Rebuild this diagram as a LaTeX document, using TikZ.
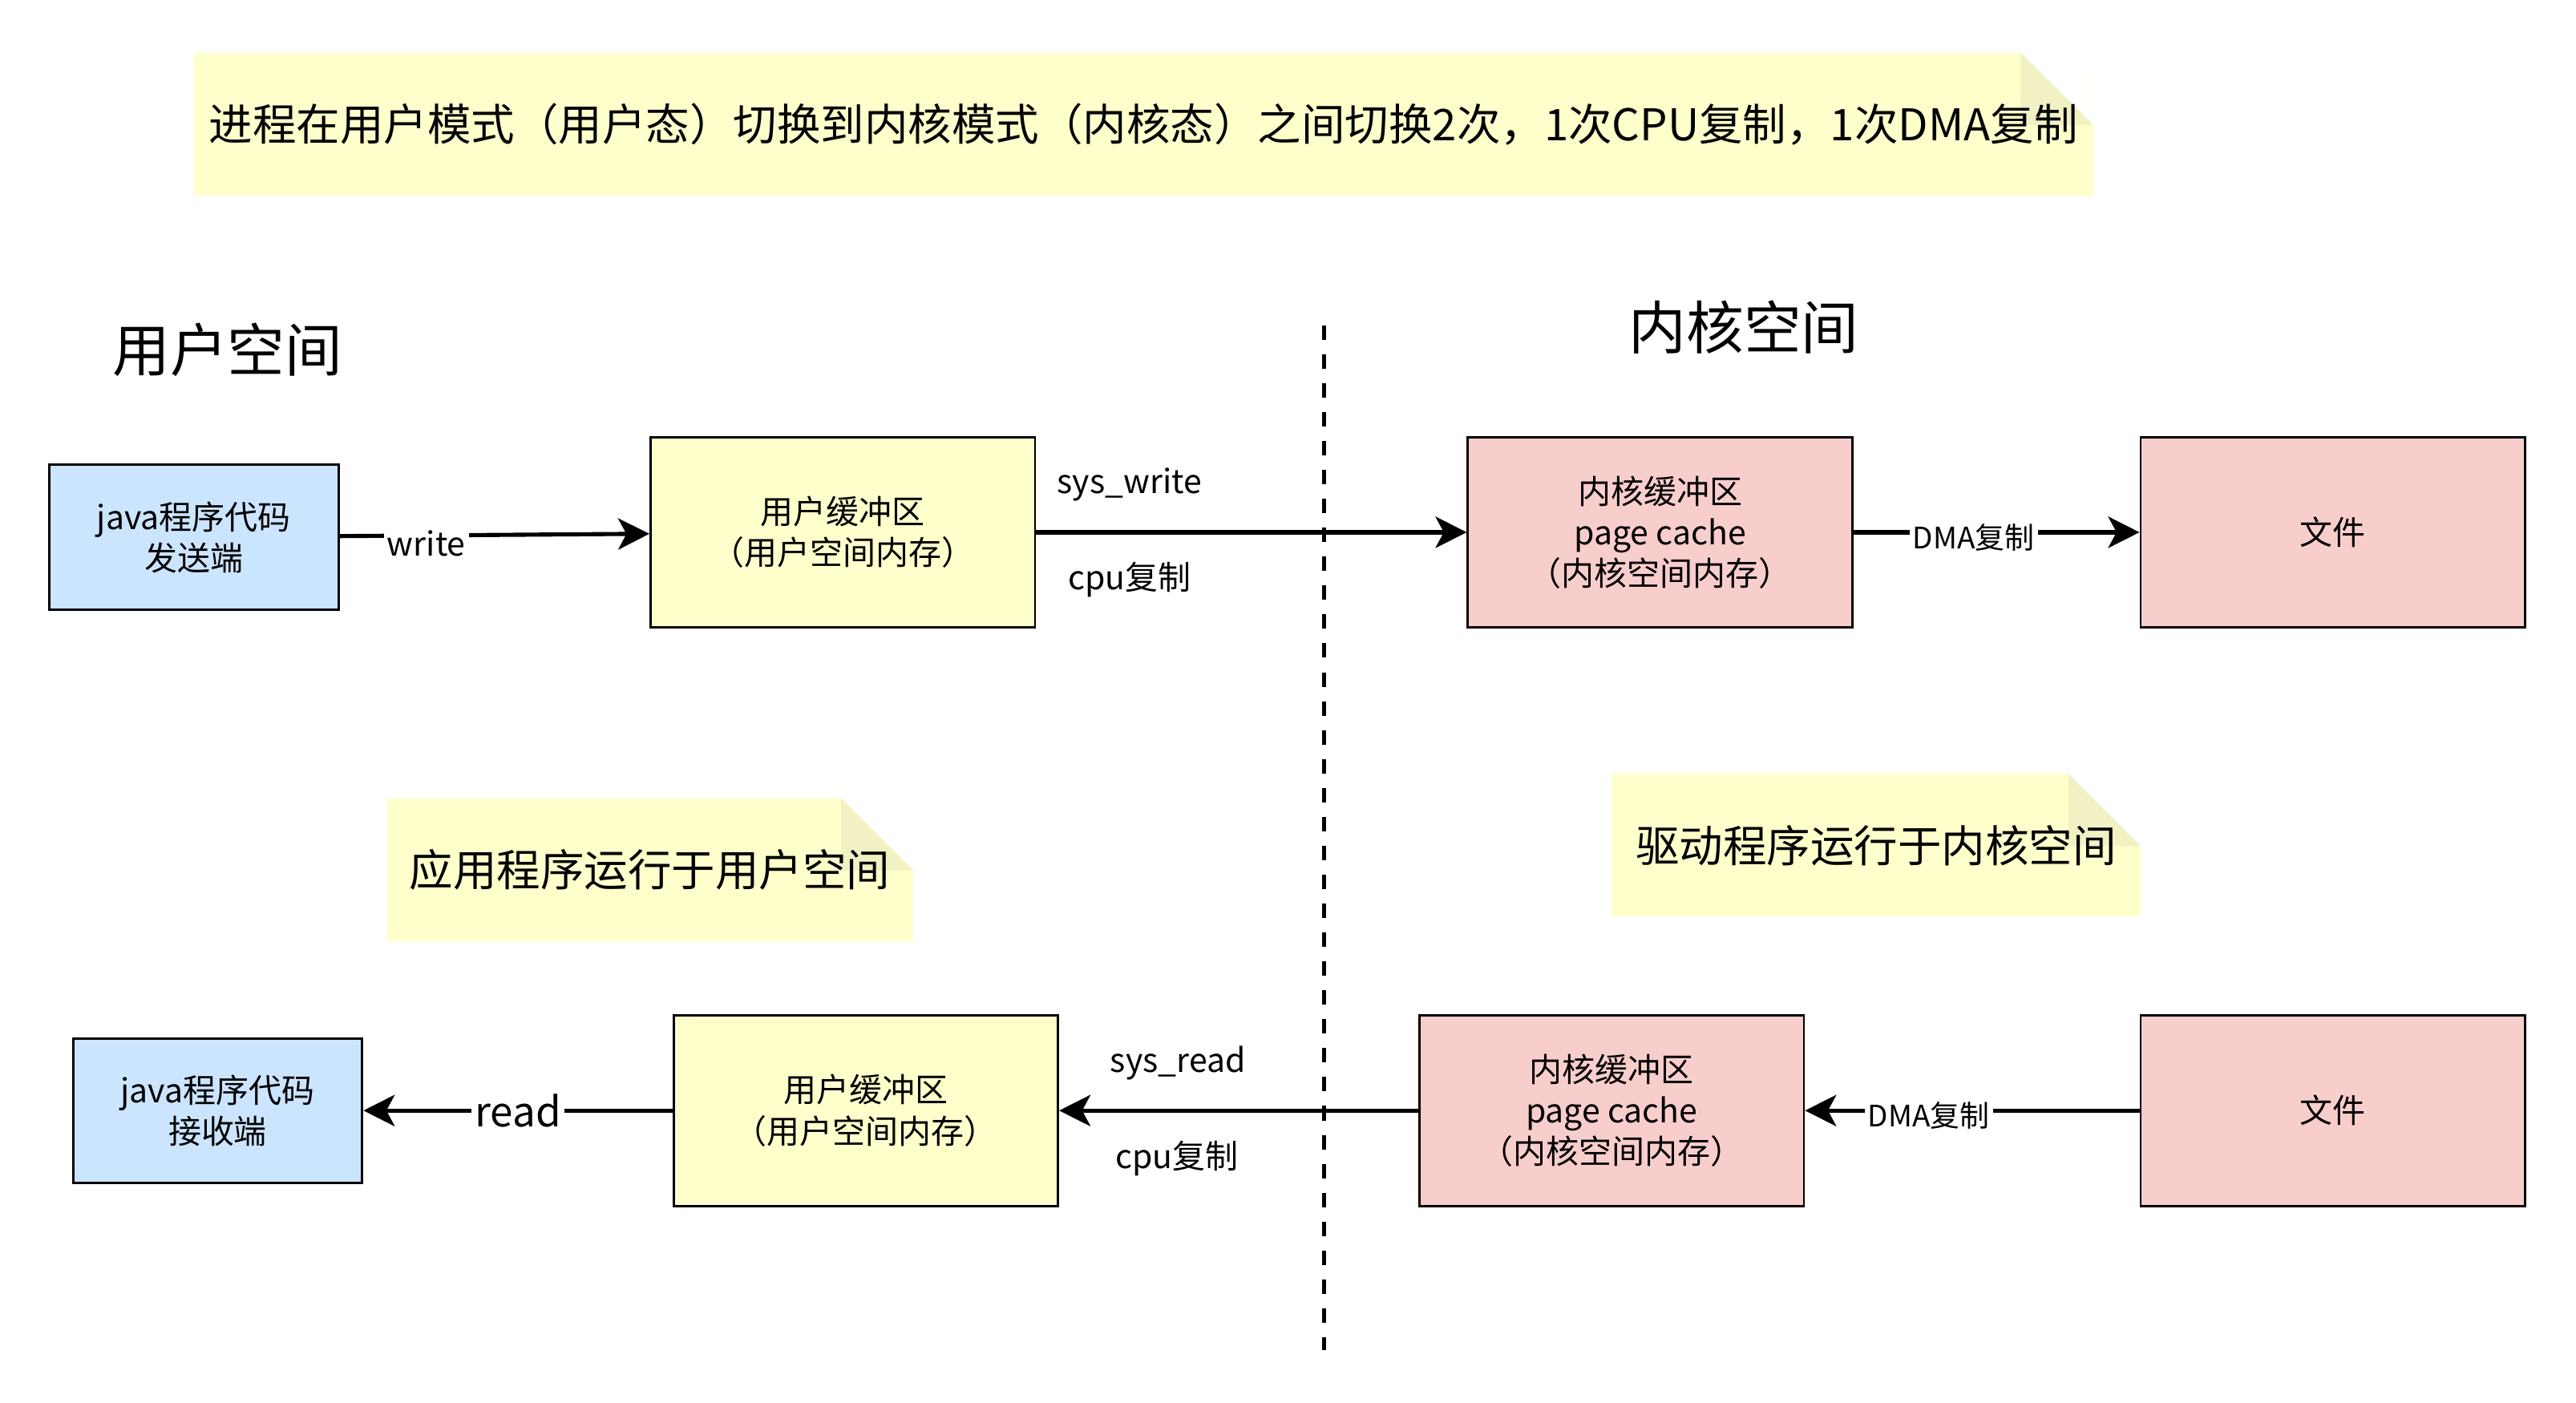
\documentclass[tikz,border=0pt]{standalone}
\usepackage{fontspec}
\setmainfont{Noto Sans CJK SC}
\usepackage{xcolor}
\usepackage{tikz}
\usetikzlibrary{arrows.meta}

\definecolor{userblue}{RGB}{204,229,255}
\definecolor{bufyellow}{RGB}{255,255,204}
\definecolor{kernpink}{RGB}{248,206,204}
\definecolor{notefold}{RGB}{241,241,196}

\begin{document}
\begin{tikzpicture}[x=0.5pt, y=-0.5pt,
  prog/.style={rectangle, draw, line width=0.7pt, fill=userblue, minimum width=88pt, minimum height=44pt, align=center, font=\fontsize{10}{12.5}\selectfont},
  buf/.style={rectangle, draw, line width=0.7pt, fill=bufyellow, minimum width=117pt, minimum height=58pt, align=center, font=\fontsize{10}{12.5}\selectfont},
  kbuf/.style={buf, fill=kernpink},
  note/.style={rectangle, fill=bufyellow, inner sep=0pt, minimum height=43.5pt, font=\fontsize{13.3}{16}\selectfont,
    path picture={
      \fill[white] ([xshift=-22pt]path picture bounding box.north east) -- (path picture bounding box.north east) -- ([yshift=-22pt]path picture bounding box.north east) -- cycle;
      \fill[notefold] ([xshift=-22pt]path picture bounding box.north east) -- ([xshift=-22pt,yshift=-22pt]path picture bounding box.north east) -- ([yshift=-22pt]path picture bounding box.north east) -- cycle;
    }},
  arrow/.style={-{Stealth[length=9.5pt, width=9.5pt, inset=2.5pt]}, line width=1.25pt},
  lbl/.style={font=\fontsize{10}{12}\selectfont},
  dmalbl/.style={font=\fontsize{9}{11}\selectfont, fill=white, inner sep=1pt, yshift=-1.5pt},
  title/.style={font=\fontsize{17.5}{21}\selectfont}
]
\useasboundingbox (0,0) rectangle (1568,853.6);

% notes
\node[note, minimum width=578pt] (topnote) at (696,75.5) {进程在用户模式（用户态）切换到内核模式（内核态）之间切换2次，1次CPU复制，1次DMA复制};
\node[note, minimum width=160.5pt] (appnote) at (395.5,529.5) {应用程序运行于用户空间};
\node[note, minimum width=161pt] (drvnote) at (1142,514.5) {驱动程序运行于内核空间};

% titles and divider
\node[title] (usertitle) at (138.5,213) {用户空间};
\node[title] (kerntitle) at (1061.5,199) {内核空间};
\coordinate (divtop) at (806,198);
\coordinate (divbot) at (806,822);

% write path
\node[prog] (sender) at (118,327) {java程序代码\\发送端};
\node[buf] (ubufw) at (513,324) {用户缓冲区\\（用户空间内存）};
\node[kbuf] (kbufw) at (1010.5,324) {内核缓冲区\\page cache\\（内核空间内存）};
\node[kbuf] (filew) at (1420,324) {文件};

\draw[arrow] (sender) -- node[lbl, fill=white, inner sep=1pt, pos=0.28, yshift=-2.5pt] (writelbl) {write} (ubufw);
\draw[arrow] (ubufw) -- (kbufw);
\node[lbl] (syswrite) at (687.5,295) {sys\_write};
\node[lbl] (cpuw) at (687.5,353) {cpu复制};
\draw[arrow] (kbufw) -- node[dmalbl, pos=0.42] (dmaw) {DMA复制} (filew);

% read path
\node[prog] (receiver) at (132.5,676) {java程序代码\\接收端};
\node[buf] (ubufr) at (527,676) {用户缓冲区\\（用户空间内存）};
\node[kbuf] (kbufr) at (981,676) {内核缓冲区\\page cache\\（内核空间内存）};
\node[kbuf] (filer) at (1420,676) {文件};

\draw[arrow] (filer) -- node[dmalbl, pos=0.63] (dmar) {DMA复制} (kbufr);
\draw[arrow] (kbufr) -- (ubufr);
\node[lbl] (sysread) at (717,647) {sys\_read};
\node[lbl] (cpur) at (716.5,705) {cpu复制};
\draw[arrow] (ubufr) -- node[fill=white, inner sep=1pt, font=\fontsize{12.5}{15}\selectfont] (readlbl) {read} (receiver);

\draw[line width=1.2pt, dash pattern=on 4.4pt off 4.4pt] (divtop) -- (divbot);
\end{tikzpicture}
\end{document}
